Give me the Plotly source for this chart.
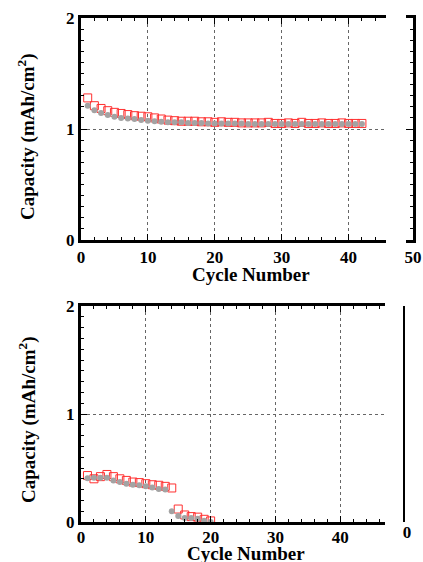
import plotly.graph_objects as go

W, H = 423, 562

# ---------------- data ----------------
top_cycles = [1, 2, 3, 4, 5, 6, 7, 8, 9, 10, 11, 12, 13, 14, 15, 16, 17, 18, 19, 20, 21,
              22, 23, 24, 25, 26, 27, 28, 29, 30, 31, 32, 33, 34, 35, 36, 37, 38, 39, 40, 41, 42]
top_red = [1.28, 1.21, 1.185, 1.165, 1.15, 1.14, 1.13, 1.12, 1.115, 1.11, 1.10, 1.09, 1.08,
           1.075, 1.07, 1.07, 1.07, 1.065, 1.065, 1.06, 1.065, 1.06, 1.06, 1.055, 1.055, 1.055,
           1.055, 1.06, 1.05, 1.05, 1.055, 1.05, 1.06, 1.05, 1.05, 1.055, 1.05, 1.05, 1.055,
           1.05, 1.05, 1.05]
top_gray = [1.21, 1.17, 1.145, 1.125, 1.11, 1.10, 1.095, 1.09, 1.08, 1.075, 1.07, 1.065, 1.06,
            1.06, 1.06, 1.055, 1.055, 1.055, 1.05, 1.05, 1.05, 1.05, 1.05, 1.05, 1.045, 1.045,
            1.045, 1.045, 1.045, 1.045, 1.045, 1.045, 1.045, 1.045, 1.045, 1.045, 1.045, 1.045,
            1.045, 1.045, 1.045, 1.045]

bot_cycles = [1, 2, 3, 4, 5, 6, 7, 8, 9, 10, 11, 12, 13, 14, 15, 16, 17, 18, 19, 20]
bot_red = [0.43, 0.40, 0.42, 0.44, 0.42, 0.40, 0.385, 0.37, 0.365, 0.355, 0.345, 0.34, 0.33,
           0.315, 0.12, 0.065, 0.05, 0.045, 0.025, 0.01]
bot_gray = [0.405, 0.41, 0.41, 0.41, 0.385, 0.37, 0.355, 0.345, 0.34, 0.33, 0.32, 0.305, 0.30,
            0.10, 0.055, 0.037, 0.037, 0.03, 0.012, 0.0]

y_ticks = [0, 1, 2]
x_ticks = [0, 10, 20, 30, 40]
top_right_tick = [50]
bot_right_tick = [0]
y_title = "Capacity (mAh/cm<sup>2</sup>)"
x_title = "Cycle Number"

# ---------------- style ----------------
FONT = "Liberation Serif, Times New Roman, serif"
RED = "#ff3030"
GRAY = "#a3a3a3"
GRID = "#666666"


def fx(p):
    return p / W


def fy(p):
    return 1 - p / H


fig = go.Figure()

for xs, r, g, xa, ya in [(top_cycles, top_red, top_gray, "x", "y"),
                         (bot_cycles, bot_red, bot_gray, "x2", "y2")]:
    fig.add_trace(go.Scatter(x=xs, y=r, mode="markers", xaxis=xa, yaxis=ya,
                             marker=dict(symbol="square-open", size=8, color=RED,
                                         line=dict(width=1, color=RED)),
                             showlegend=False, hoverinfo="skip"))
    fig.add_trace(go.Scatter(x=xs, y=g, mode="markers", xaxis=xa, yaxis=ya,
                             marker=dict(symbol="circle", size=6, color=GRAY,
                                         line=dict(width=0)),
                             showlegend=False, hoverinfo="skip"))

# empty traces so the broken-axis stubs are drawn
for xa, ya in [("x3", "y3"), ("x4", "y4")]:
    fig.add_trace(go.Scatter(x=[], y=[], mode="markers", xaxis=xa, yaxis=ya,
                             showlegend=False, hoverinfo="skip"))

tickfont = dict(family=FONT, size=17, color="black", weight="bold")


def main_x(domain, rng, anchor):
    return dict(domain=domain, range=rng, anchor=anchor, tickvals=x_ticks,
                showline=True, linewidth=3, linecolor="black", mirror="ticks",
                ticks="inside", ticklen=6, tickwidth=1, tickcolor="black",
                minor=dict(dtick=2, ticks="inside", ticklen=3, tickwidth=1,
                           tickcolor="black", showgrid=False),
                showgrid=True, gridcolor=GRID, griddash="dot", gridwidth=1,
                zeroline=False, tickfont=tickfont, automargin=False)


def main_y(domain, anchor):
    return dict(domain=domain, range=[0, 2], anchor=anchor, tickvals=y_ticks,
                showline=True, linewidth=3, linecolor="black", mirror=False,
                ticks="inside", ticklen=6, tickwidth=1, tickcolor="black",
                minor=dict(dtick=0.1, ticks="inside", ticklen=3, tickwidth=1,
                           tickcolor="black", showgrid=False),
                showgrid=True, gridcolor=GRID, griddash="dot", gridwidth=1,
                zeroline=False, tickfont=tickfont, automargin=False)


fig.update_layout(
    xaxis=main_x([fx(81), fx(386)], [0, 45.6], "y"),
    yaxis=main_y([fy(240), fy(18)], "x"),
    xaxis2=main_x([fx(81), fx(385)], [0, 46.9], "y2"),
    yaxis2=main_y([fy(522), fy(306)], "x2"),
    # top right bracket
    xaxis3=dict(domain=[fx(406), fx(413)], range=[49, 50], anchor="y3",
                tickvals=top_right_tick, showline=True, linewidth=3, linecolor="black",
                mirror=True, ticks="", showgrid=False, zeroline=False,
                tickfont=tickfont, automargin=False),
    yaxis3=dict(domain=[fy(240), fy(18)], range=[0, 2], anchor="x3", side="right",
                tickvals=y_ticks, showticklabels=False,
                showline=True, linewidth=3, linecolor="black",
                ticks="inside", ticklen=7, tickwidth=1, tickcolor="black",
                minor=dict(dtick=0.1, ticks="inside", ticklen=3, tickwidth=1,
                           tickcolor="black", showgrid=False),
                showgrid=True, gridcolor=GRID, griddash="dot", gridwidth=1,
                zeroline=False, automargin=False),
    # bottom right line
    xaxis4=dict(domain=[fx(405), fx(409)], range=[-1, 1], anchor="y4",
                tickvals=bot_right_tick, showline=False, ticks="", showgrid=False,
                zeroline=False, tickfont=tickfont, automargin=False,
                ticklabelstandoff=-2),
    yaxis4=dict(domain=[fy(522), fy(306)], range=[0, 2], anchor="x4", side="left",
                showticklabels=False, showline=True, linewidth=2, linecolor="black",
                ticks="", showgrid=False, zeroline=False, automargin=False),
)
fig.update_layout(xaxis2=dict(ticklabelstandoff=-2))

title_font = dict(family=FONT, size=19, color="black", weight="bold")
annos = [
    dict(text=y_title, x=fx(27), y=fy(137), textangle=-90, yanchor="middle"),
    dict(text=y_title, x=fx(27), y=fy(420), textangle=-90, yanchor="middle"),
    dict(text=x_title, x=fx(251), y=fy(263), yanchor="top"),
    dict(text=x_title, x=fx(246), y=fy(542), yanchor="top"),
]
for a in annos:
    fig.add_annotation(xref="paper", yref="paper", showarrow=False,
                       xanchor="center", font=title_font, borderpad=0, **a)

fig.update_layout(width=W, height=H, autosize=False,
                  margin=dict(l=0, r=0, t=0, b=0),
                  paper_bgcolor="white", plot_bgcolor="white",
                  showlegend=False)

fig.write_html("out.html", config={"displayModeBar": False},
               post_script="document.body.style.margin='0px';"
                           "document.body.style.overflow='hidden';")
